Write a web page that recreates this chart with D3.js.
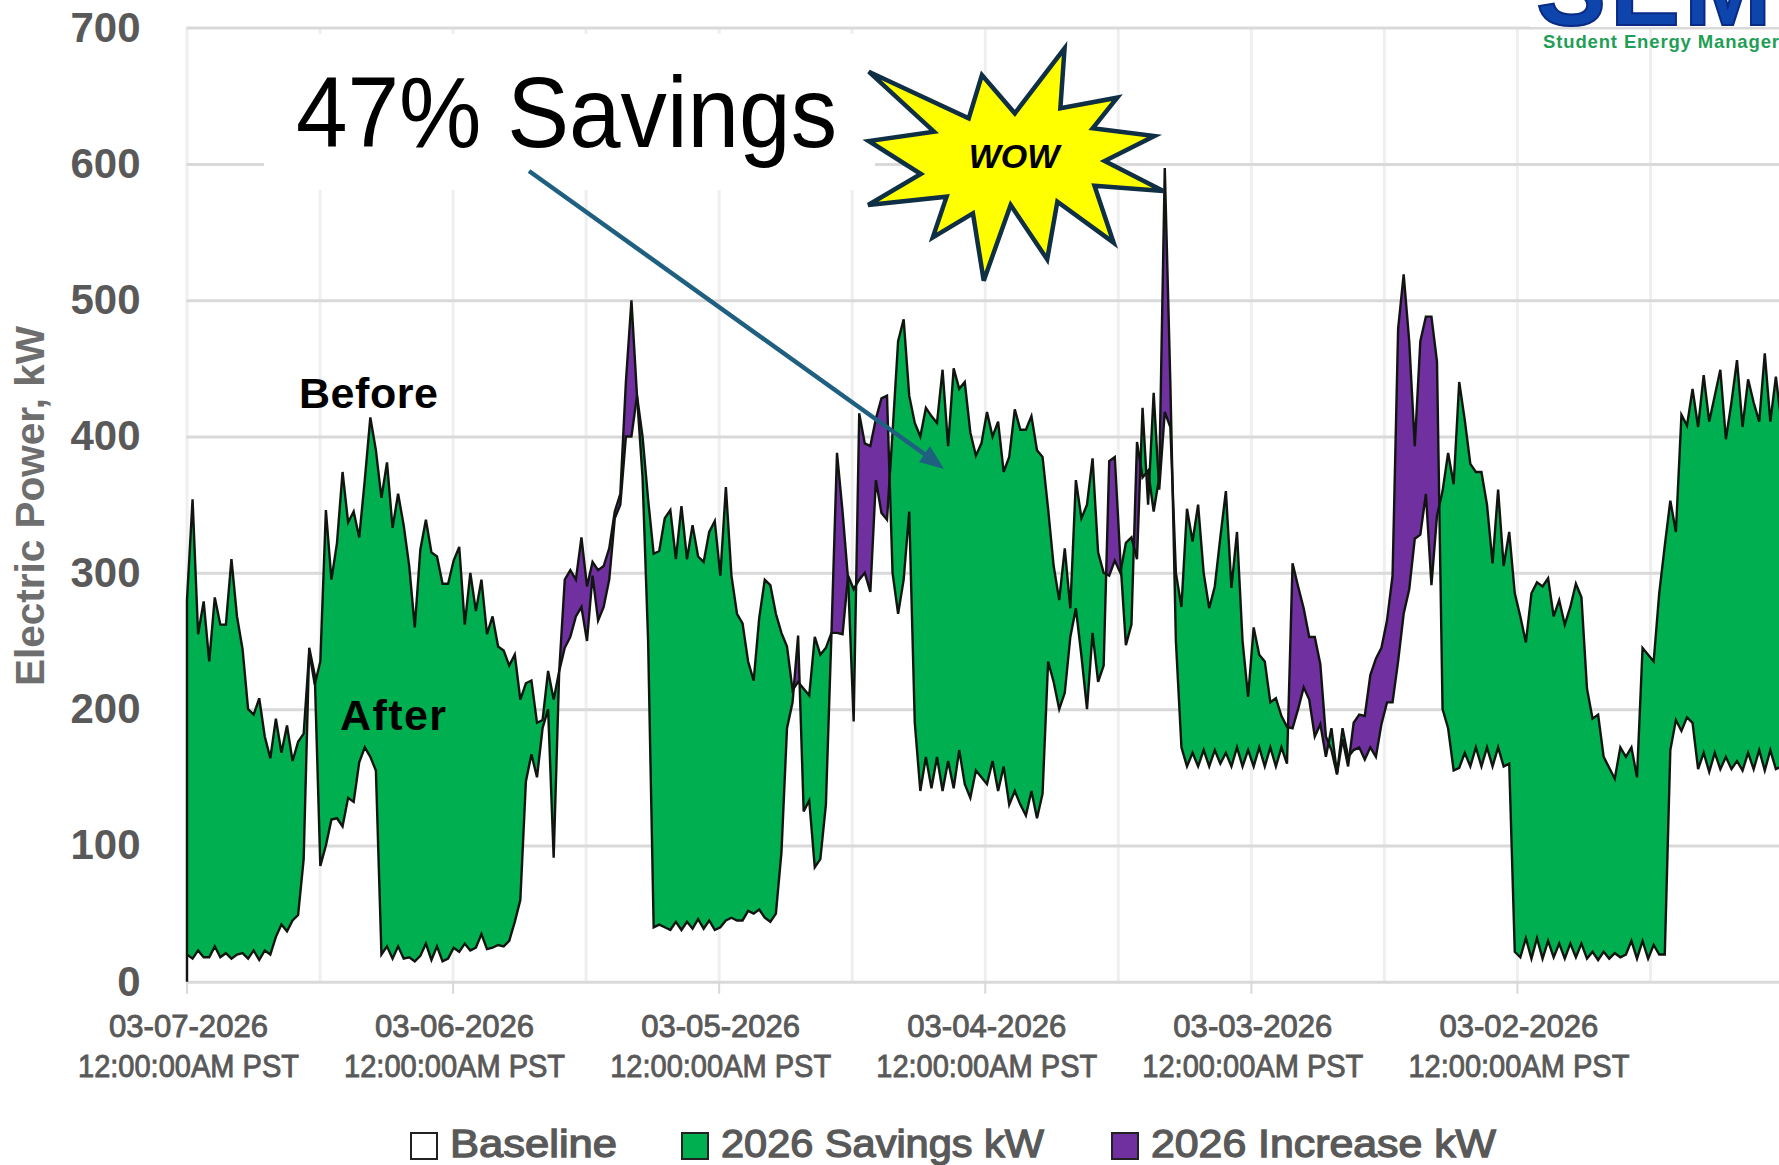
<!DOCTYPE html>
<html><head><meta charset="utf-8">
<style>html,body{margin:0;padding:0;background:#fff;overflow:hidden}svg{display:block}</style>
<script src="https://cdn.jsdelivr.net/npm/d3@7"></script>
</head><body><svg id="c" width="1779" height="1165"></svg>
<script>
// half-hourly readings, running right-hand from the 03-07-2026 tick
const stepHours = 0.5;
const baselineKw = [
280,354,255,279,235,282,262,262,310,268,244,200,
196,208,180,164,193,168,188,162,176,182,242,218,
235,346,295,322,374,337,345,326,368,414,390,355,
381,333,358,335,305,260,317,339,315,312,292,292,
309,319,262,300,272,295,255,268,246,243,232,240,
207,219,221,190,192,228,207,228,245,253,268,275,
250,298,265,275,295,340,350,400,400,430,400,354,
314,316,340,346,310,349,310,335,312,308,330,338,
298,363,298,270,263,235,221,267,295,291,270,256,
246,214,220,215,210,253,240,245,256,256,255,298,
288,295,300,286,368,344,339,403,470,486,430,410,
400,421,415,410,449,393,450,435,440,403,386,395,
418,400,411,374,385,420,405,405,415,390,385,347,
305,280,318,274,368,340,350,384,315,300,298,309,
300,322,326,310,421,350,432,361,418,407,300,275,
347,323,350,300,274,290,326,360,289,330,250,209,
260,240,235,205,208,195,187,186,200,216,207,180,
189,165,186,153,186,165,170,172,163,172,165,189,
205,205,235,270,288,325,328,358,291,342,360,388,
365,440,412,380,374,374,350,307,361,305,330,285,
268,249,285,293,290,296,268,280,262,275,292,282,
215,193,196,165,157,149,172,165,172,150,245,240,
235,285,320,353,330,416,408,435,407,445,411,430,
449,398,425,456,407,442,425,411,461,411,444,410];
const after2026Kw = [
20,17,23,18,18,26,18,21,17,20,21,17,
23,16,23,20,33,42,37,45,49,90,245,225,
85,100,119,120,114,135,132,161,172,165,155,20,
26,17,26,17,18,15,19,28,16,26,15,17,
25,22,28,23,25,35,24,25,27,26,30,44,
60,147,167,150,186,200,91,228,295,302,295,326,
290,308,302,305,318,345,358,440,500,430,370,250,
40,42,40,38,44,38,44,39,46,39,45,38,
40,45,47,45,45,52,50,53,47,44,50,95,
186,205,254,125,133,84,90,130,255,388,345,295,
191,417,395,393,413,428,430,300,270,295,345,190,
140,165,142,165,140,162,142,170,145,135,155,150,
145,162,140,158,130,140,130,122,140,120,138,235,
220,200,212,253,274,239,200,256,220,232,382,385,
310,247,262,396,370,375,345,370,597,440,250,172,
158,168,158,170,158,170,160,168,158,172,158,170,
158,172,158,172,158,172,160,307,290,274,253,253,
233,180,170,152,178,158,190,196,195,225,237,245,
265,298,479,519,470,393,470,488,488,455,200,186,
155,157,168,158,172,158,172,158,172,158,160,22,
18,32,17,32,17,30,18,28,17,28,18,28,
17,22,16,22,17,21,18,20,30,17,30,17,
27,20,20,170,192,184,194,190,156,168,154,168,
156,165,156,162,155,168,156,170,155,170,156,158];
const yTicks = [0,100,200,300,400,500,600,700];
const dayLabels = ["03-07-2026","03-06-2026","03-05-2026","03-04-2026","03-03-2026","03-02-2026"];
const timeLabel = "12:00:00AM PST";
const legendNames = ["Baseline","2026 Savings kW","2026 Increase kW"];
const legendColors = ["#ffffff","#00b050","#7030a0"];
const starShape = [[48,215],[215,355],[237,225],[292,340],[375,145],[368,325],[463,293],[422,385],[525,408],[442,483],[540,573],[425,557],[457,728],[363,605],[346,778],[285,615],[240,842],[222,640],[155,712],[178,590],[47,615],[135,522],[48,423],[157,395]];

const svg = d3.select("#c");
const FONT = "'Liberation Sans',Arial,sans-serif";
const GREY = "#595959";
const xTick = d3.scaleLinear().domain([0,144]).range([186.5,1783]);
const x = d3.scaleLinear().domain([0,144]).range([187,1787]);
const y = d3.scaleLinear().domain([0,700]).range([981.8,27.6]);
const data = baselineKw.map((b,i)=>({h:i*stepHours,b,a:after2026Kw[i]}));
const halfDays = d3.range(0,145,12);

// gridlines via axes
const gx = svg.append("g").attr("transform",`translate(0,${y(0)})`)
  .call(d3.axisBottom(xTick).tickValues(halfDays).tickSize(y(700)-y(0)).tickFormat(""));
gx.select(".domain").remove();
gx.selectAll("line").attr("stroke","#efefef").attr("stroke-width",3);
const dayTicks = svg.append("g").attr("transform",`translate(0,${y(0)})`)
  .call(d3.axisBottom(xTick).tickValues(dayLabels.map((d,i)=>i*24)).tickSize(12).tickFormat(""));
dayTicks.select(".domain").remove();
dayTicks.selectAll("line").attr("stroke","#d9d9d9").attr("stroke-width",2);

const gy = svg.append("g").attr("transform",`translate(${xTick(0)},0)`)
  .call(d3.axisLeft(y).tickValues(yTicks).tickSize(-(1779-xTick(0))).tickPadding(46).tickFormat(d3.format("d")));
gy.select(".domain").remove();
gy.selectAll("line").attr("stroke","#d9d9d9").attr("stroke-width",3);
gy.selectAll("text").attr("font-family",FONT).attr("font-size",42).attr("font-weight",700).attr("fill",GREY);

// white backing of the pasted caption
svg.append("rect").attr("x",264).attr("y",34).attr("width",611).attr("height",156).attr("fill","#fff");

// fill between baseline and after lines: green above after, purple below
const defs = svg.append("defs");
defs.append("clipPath").attr("id","aboveAfter").append("path")
  .attr("d",d3.area().x(d=>x(d.h)).y0(0).y1(d=>y(d.a))(data));
defs.append("clipPath").attr("id","belowAfter").append("path")
  .attr("d",d3.area().x(d=>x(d.h)).y0(y(0)+5).y1(d=>y(d.a))(data));
const between = d3.area().x(d=>x(d.h)).y0(d=>y(d.a)).y1(d=>y(d.b));
svg.append("path").attr("d",between(data)).attr("fill",legendColors[1]).attr("clip-path","url(#aboveAfter)");
svg.append("path").attr("d",between(data)).attr("fill",legendColors[2]).attr("clip-path","url(#belowAfter)");
const lineB = d3.line().x(d=>x(d.h)).y(d=>y(d.b));
const lineA = d3.line().x(d=>x(d.h)).y(d=>y(d.a));
const edge = [{h:0,b:0}].concat(data);
svg.append("path").attr("d",lineB(edge)).attr("fill","none").attr("stroke","#101510").attr("stroke-width",2.4);
svg.append("path").attr("d",lineA(data)).attr("fill","none").attr("stroke","#101510").attr("stroke-width",2.4);

// y title
svg.append("text").attr("transform","translate(44,506) rotate(-90)").attr("text-anchor","middle")
  .attr("font-family",FONT).attr("font-size",40.5).attr("font-weight",700).attr("fill","#6e6e6e").text("Electric Power, kW");

// x labels
const labs = svg.append("g").selectAll("g").data(dayLabels).join("g")
  .attr("transform",(d,i)=>`translate(${xTick(i*24)+2},0)`);
labs.append("text").attr("y",1037).attr("text-anchor","middle").attr("font-family",FONT).attr("font-size",31).attr("fill",GREY)
  .attr("stroke",GREY).attr("stroke-width",0.9).attr("textLength",159).attr("lengthAdjust","spacingAndGlyphs").text(d=>d);
labs.append("text").attr("y",1077).attr("text-anchor","middle").attr("font-family",FONT).attr("font-size",31).attr("fill",GREY)
  .attr("stroke",GREY).attr("stroke-width",0.9).attr("textLength",221).attr("lengthAdjust","spacingAndGlyphs").text(timeLabel);

// legend
const legX=[411,682,1112], legW=[167,323,345];
const leg = svg.append("g").selectAll("g").data(legendNames).join("g");
leg.append("rect").attr("x",(d,i)=>legX[i]).attr("y",1133).attr("width",26).attr("height",26)
  .attr("fill",(d,i)=>legendColors[i]).attr("stroke","#222").attr("stroke-width",2);
leg.append("text").attr("x",(d,i)=>legX[i]+39).attr("y",1157).attr("font-family",FONT).attr("font-size",38).attr("fill",GREY)
  .attr("stroke",GREY).attr("stroke-width",1.3).attr("textLength",(d,i)=>legW[i]).attr("lengthAdjust","spacingAndGlyphs").text(d=>d);

// annotations
svg.append("text").attr("x",296).attr("y",147).attr("font-family",FONT).attr("font-size",100).attr("fill","#000")
  .attr("textLength",541).attr("lengthAdjust","spacingAndGlyphs").text("47% Savings");
svg.append("text").attr("x",299).attr("y",408).attr("font-family",FONT).attr("font-size",43).attr("font-weight",700).attr("fill","#000")
  .attr("textLength",139).text("Before");
svg.append("text").attr("x",340).attr("y",730).attr("font-family",FONT).attr("font-size",43).attr("font-weight",700).attr("fill","#000")
  .attr("textLength",106).text("After");

// arrow
svg.append("line").attr("x1",529).attr("y1",171).attr("x2",930).attr("y2",458).attr("stroke","#1f6080").attr("stroke-width",4.5);
svg.append("path").attr("d","M944,469 L919,462 L930,446 Z").attr("fill","#1f6080");

// star
const starPx = starShape.map(([a,b])=>[840+a/1.67,b/3]);
svg.append("path").attr("d",d3.line().curve(d3.curveLinearClosed)(starPx)).attr("fill","#ffff00").attr("stroke","#0f2f45").attr("stroke-width",4.5).attr("stroke-linejoin","miter");
svg.append("text").attr("x",1014).attr("y",168).attr("text-anchor","middle").attr("font-family",FONT).attr("font-size",34).attr("font-weight",700).attr("font-style","italic").attr("fill","#000").text("WOW");

// logo
svg.append("rect").attr("x",1530).attr("y",0).attr("width",249).attr("height",27).attr("fill","#fff");
svg.append("text").attr("x",1536).attr("y",25).attr("font-family",FONT).attr("font-size",105).attr("font-weight",700).attr("fill","#0d45ad").attr("stroke","#0a2a85").attr("stroke-width",2).attr("letter-spacing",4).text("SEM");
svg.append("text").attr("x",1543).attr("y",48).attr("font-family",FONT).attr("font-size",18.5).attr("font-weight",700).attr("fill","#1f9e55").attr("textLength",236).text("Student Energy Manager");
</script></body></html>
